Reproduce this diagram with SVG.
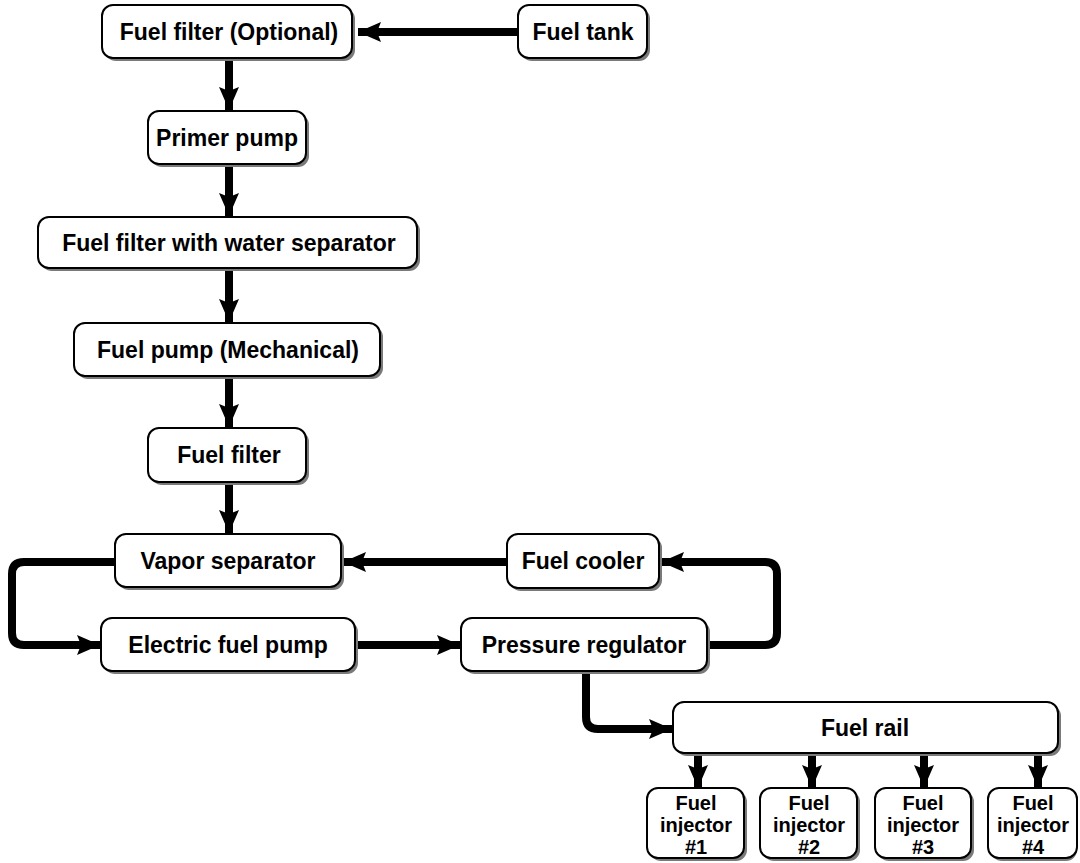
<svg xmlns="http://www.w3.org/2000/svg" width="1080" height="863" viewBox="0 0 1080 863">
<style>
.box{fill:#fff;stroke:#000;stroke-width:2}
.sh{fill:#7a7a7a}
.t{font-family:"Liberation Sans",Arial,sans-serif;font-weight:bold;font-size:23px;text-anchor:middle;fill:#000}
.ti{font-family:"Liberation Sans",Arial,sans-serif;font-weight:bold;font-size:20px;text-anchor:middle;fill:#000}
.c{fill:none;stroke:#000;stroke-width:8;stroke-linejoin:round}
</style>
<defs>
<marker id="ah" markerUnits="userSpaceOnUse" markerWidth="24" markerHeight="22" viewBox="0 0 24 22" refX="23" refY="11" orient="auto">
<path d="M0,1 L23,11 L0,21 L4,11 Z" fill="#000"/>
</marker>
</defs>
<g id="connectors">
<path class="c" d="M518,32 H358" marker-end="url(#ah)"/>
<path class="c" d="M229,58 V110" marker-end="url(#ah)"/>
<path class="c" d="M229,164 V216" marker-end="url(#ah)"/>
<path class="c" d="M229,268 V322" marker-end="url(#ah)"/>
<path class="c" d="M229,376 V427" marker-end="url(#ah)"/>
<path class="c" d="M229,482 V533" marker-end="url(#ah)"/>
<path class="c" d="M507,562 H343" marker-end="url(#ah)"/>
<path class="c" d="M115,562 H24 Q12,562 12,574 V633 Q12,645 24,645 H100" marker-end="url(#ah)"/>
<path class="c" d="M355,645 H460" marker-end="url(#ah)"/>
<path class="c" d="M707,645 H765 Q777,645 777,633 V574 Q777,562 765,562 H661" marker-end="url(#ah)"/>
<path class="c" d="M586,671 V717 Q586,729 598,729 H672" marker-end="url(#ah)"/>
<path class="c" d="M698,753 V788" marker-end="url(#ah)"/>
<path class="c" d="M812,753 V788" marker-end="url(#ah)"/>
<path class="c" d="M924,753 V788" marker-end="url(#ah)"/>
<path class="c" d="M1038,753 V788" marker-end="url(#ah)"/>
</g>
<g id="n_filter_opt"><rect class="sh" x="105" y="8" width="250" height="53" rx="11"/><rect class="box" x="102" y="5" width="250" height="53" rx="11"/><text class="t" x="229" y="40">Fuel filter (Optional)</text></g>
<g id="n_tank"><rect class="sh" x="521" y="8" width="129" height="53" rx="11"/><rect class="box" x="518" y="5" width="129" height="53" rx="11"/><text class="t" x="583" y="40">Fuel tank</text></g>
<g id="n_primer"><rect class="sh" x="151" y="114" width="158" height="53" rx="11"/><rect class="box" x="148" y="111" width="158" height="53" rx="11"/><text class="t" x="227" y="146">Primer pump</text></g>
<g id="n_water"><rect class="sh" x="41" y="220" width="379" height="51" rx="11"/><rect class="box" x="38" y="217" width="379" height="51" rx="11"/><text class="t" x="229" y="251">Fuel filter with water separator</text></g>
<g id="n_mech"><rect class="sh" x="77" y="326" width="306" height="53" rx="11"/><rect class="box" x="74" y="323" width="306" height="53" rx="11"/><text class="t" x="228" y="358">Fuel pump (Mechanical)</text></g>
<g id="n_filter"><rect class="sh" x="151" y="431" width="158" height="54" rx="11"/><rect class="box" x="148" y="428" width="158" height="54" rx="11"/><text class="t" x="229" y="463">Fuel filter</text></g>
<g id="n_vapor"><rect class="sh" x="118" y="537" width="226" height="53" rx="11"/><rect class="box" x="115" y="534" width="226" height="53" rx="11"/><text class="t" x="228" y="569">Vapor separator</text></g>
<g id="n_cooler"><rect class="sh" x="510" y="537" width="152" height="54" rx="11"/><rect class="box" x="507" y="534" width="152" height="54" rx="11"/><text class="t" x="583" y="569">Fuel cooler</text></g>
<g id="n_elec"><rect class="sh" x="104" y="621" width="254" height="53" rx="11"/><rect class="box" x="101" y="618" width="254" height="53" rx="11"/><text class="t" x="228" y="653">Electric fuel pump</text></g>
<g id="n_press"><rect class="sh" x="464" y="621" width="246" height="53" rx="11"/><rect class="box" x="461" y="618" width="246" height="53" rx="11"/><text class="t" x="584" y="653">Pressure regulator</text></g>
<g id="n_rail"><rect class="sh" x="676" y="705" width="385" height="51" rx="11"/><rect class="box" x="673" y="702" width="385" height="51" rx="11"/><text class="t" x="865" y="736">Fuel rail</text></g>
<g id="n_inj1"><rect class="sh" x="650" y="791" width="97" height="70" rx="11"/><rect class="box" x="647" y="788" width="97" height="70" rx="11"/><text class="ti" x="696" y="810">Fuel<tspan x="696" dy="22">injector</tspan><tspan x="696" dy="22">#1</tspan></text></g>
<g id="n_inj2"><rect class="sh" x="763" y="791" width="97" height="70" rx="11"/><rect class="box" x="760" y="788" width="97" height="70" rx="11"/><text class="ti" x="809" y="810">Fuel<tspan x="809" dy="22">injector</tspan><tspan x="809" dy="22">#2</tspan></text></g>
<g id="n_inj3"><rect class="sh" x="878" y="791" width="96" height="70" rx="11"/><rect class="box" x="875" y="788" width="96" height="70" rx="11"/><text class="ti" x="923" y="810">Fuel<tspan x="923" dy="22">injector</tspan><tspan x="923" dy="22">#3</tspan></text></g>
<g id="n_inj4"><rect class="sh" x="991" y="791" width="86" height="70" rx="11"/><rect class="box" x="988" y="788" width="89" height="70" rx="11"/><text class="ti" x="1033" y="810">Fuel<tspan x="1033" dy="22">injector</tspan><tspan x="1033" dy="22">#4</tspan></text></g>
</svg>
